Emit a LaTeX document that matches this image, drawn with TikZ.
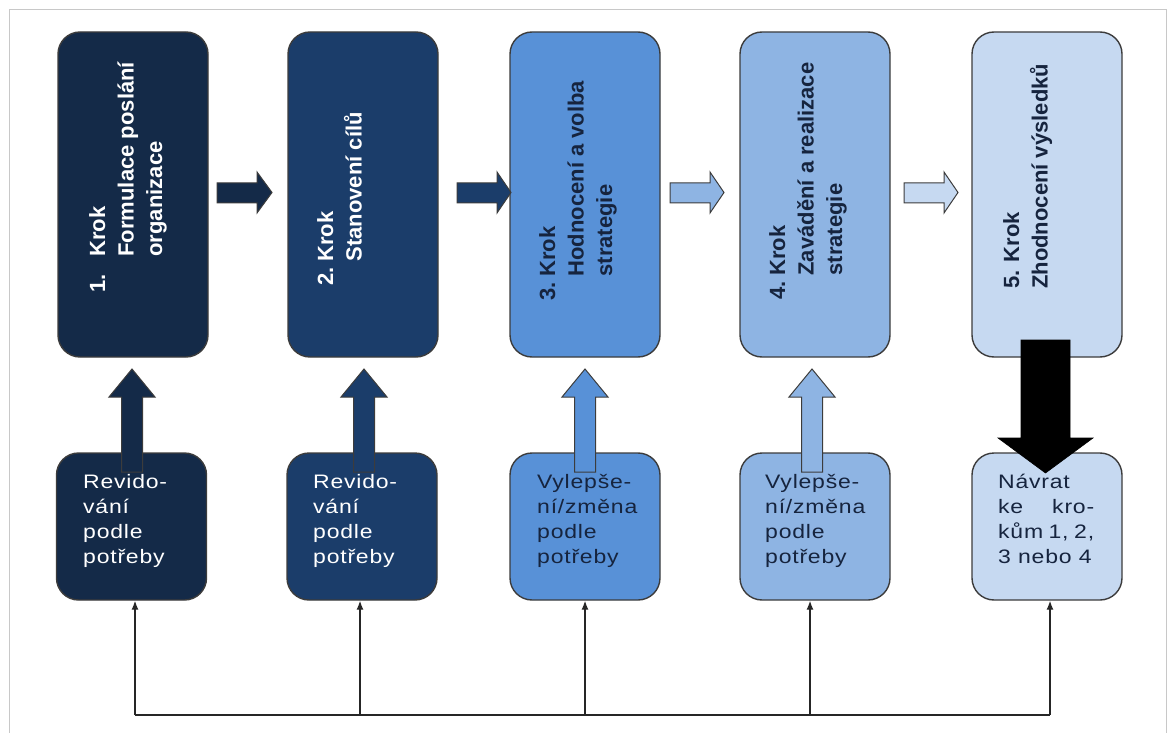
\documentclass[tikz,border=0pt]{standalone}
\usepackage{fontspec}
\setmainfont{Liberation Sans}
\newfontfamily\btfont[FakeStretch=1.18,LetterSpace=4]{Liberation Sans}
\usetikzlibrary{arrows.meta}
\definecolor{cA}{RGB}{20,42,72}
\definecolor{cB}{RGB}{27,61,106}
\definecolor{cC}{RGB}{88,145,215}
\definecolor{cD}{RGB}{142,180,227}
\definecolor{cE}{RGB}{198,217,241}
\definecolor{dtext}{RGB}{22,36,62}
\definecolor{edge}{RGB}{60,60,60}
\definecolor{framec}{RGB}{200,200,200}
\begin{document}
\begin{tikzpicture}[x=1pt,y=-1pt,
  topbox/.style={draw=edge, line width=1.4pt, rounded corners=22pt, minimum width=150pt, minimum height=325pt, inner sep=0pt},
  botbox/.style={draw=edge, line width=1.4pt, rounded corners=22pt, minimum width=150pt, minimum height=147pt, inner sep=0pt},
  steptext/.style={rotate=90, anchor=base west, inner sep=0pt, font=\bfseries\fontsize{22}{28.5}\selectfont},
  bottext/.style={anchor=base west, inner sep=0pt, font=\btfont\fontsize{19.5}{25}\selectfont},
  blockarrow/.style={draw=edge, line width=1pt, line join=miter},
  bus/.style={line width=1.3pt, draw=black!85},
  busarrow/.style={bus, -{Latex[length=9pt,width=7pt]}}
]
\useasboundingbox (0,0) rectangle (1168,733);
% outer frame
\draw[framec, line width=0.8pt] (9,733) -- (9,9) -- (1166,9) -- (1166,733);

% top step boxes
\node[topbox, fill=cA] (t1) at (133,194.5) {};
\node[topbox, fill=cB] (t2) at (363,194.5) {};
\node[topbox, fill=cC] (t3) at (585,194.5) {};
\node[topbox, fill=cD] (t4) at (815,194.5) {};
\node[topbox, fill=cE] (t5) at (1047,194.5) {};

% bottom boxes
\node[botbox, fill=cA] (b1) at (131.5,526.5) {};
\node[botbox, fill=cB] (b2) at (362,526.5) {};
\node[botbox, fill=cC] (b3) at (585,526.5) {};
\node[botbox, fill=cD] (b4) at (815,526.5) {};
\node[botbox, fill=cE] (b5) at (1047,526.5) {};

% right block arrows between step boxes
\foreach \xs/\xh/\xt/\col in {217/257/272/cA, 457/497/511/cB, 670/710/724/cD, 904/944/958/cE}{
  \draw[blockarrow, fill=\col] (\xs,183) -- (\xh,183) -- (\xh,172) -- (\xt,192.5) -- (\xh,213) -- (\xh,203) -- (\xs,203) -- cycle;
}

% up block arrows from bottom boxes to step boxes
\foreach \cx/\col in {132/cA, 364/cB, 585/cC, 812/cD}{
  \draw[blockarrow, fill=\col] (\cx-10.5,472) -- (\cx-10.5,397) -- (\cx-23,397) -- (\cx,369) -- (\cx+23,397) -- (\cx+10.5,397) -- (\cx+10.5,472) -- cycle;
}

% black down arrow from step 5
\draw[fill=black, draw=black, line width=0.6pt] (1021,340) -- (1070,340) -- (1070,438) -- (1093,438) -- (1045.5,473) -- (998,438) -- (1021,438) -- cycle;

% step texts (rotated)
\node[steptext, text=white] (s1) at (105,293) {\begin{tabular}[t]{@{}l@{\hspace{18pt}}l@{}}1.&Krok\\ &Formulace poslání\\ &organizace\end{tabular}};
\node[steptext, text=white] (s2) at (333,286) {\begin{tabular}[t]{@{}l@{\hspace{6pt}}l@{}}2.&Krok\\ &Stanovení cílů\end{tabular}};
\node[steptext, text=dtext] (s3) at (555,301) {\begin{tabular}[t]{@{}l@{\hspace{6pt}}l@{}}3.&Krok\\ &Hodnocení a volba\\ &strategie\end{tabular}};
\node[steptext, text=dtext] (s4) at (785,300) {\begin{tabular}[t]{@{}l@{\hspace{6pt}}l@{}}4.&Krok\\ &Zavádění a realizace\\ &strategie\end{tabular}};
\node[steptext, text=dtext] (s5) at (1019,289) {\begin{tabular}[t]{@{}l@{}}5. Krok\\ Zhodnocení výsledků\end{tabular}};

% bottom texts
\node[bottext, text=white] (r1) at (83,488) {\begin{tabular}[t]{@{}l@{}}Revido-\\ vání\\ podle\\ potřeby\end{tabular}};
\node[bottext, text=white] (r2) at (313,488) {\begin{tabular}[t]{@{}l@{}}Revido-\\ vání\\ podle\\ potřeby\end{tabular}};
\node[bottext, text=dtext] (r3) at (537,488) {\begin{tabular}[t]{@{}l@{}}Vylepše-\\ ní/změna\\ podle\\ potřeby\end{tabular}};
\node[bottext, text=dtext] (r4) at (765,488) {\begin{tabular}[t]{@{}l@{}}Vylepše-\\ ní/změna\\ podle\\ potřeby\end{tabular}};
\node[bottext, text=dtext] (r5) at (998,488) {\begin{tabular}[t]{@{}l@{}}Návrat\\ \makebox[96pt][s]{ke kro-}\\ \makebox[96pt][s]{kům 1, 2,}\\ 3 nebo 4\end{tabular}};

% feedback bus
\coordinate (h1) at (135,715);
\coordinate (h2) at (360,715);
\coordinate (h3) at (585,715);
\coordinate (h4) at (810,715);
\coordinate (h5) at (1050,715);
\draw[bus] (h1) -- (h5);
\draw[busarrow] (h1) -- (h1 |- b1.south);
\draw[busarrow] (h2) -- (h2 |- b2.south);
\draw[busarrow] (h3) -- (h3 |- b3.south);
\draw[busarrow] (h4) -- (h4 |- b4.south);
\draw[busarrow] (h5) -- (h5 |- b5.south);
\end{tikzpicture}
\end{document}
